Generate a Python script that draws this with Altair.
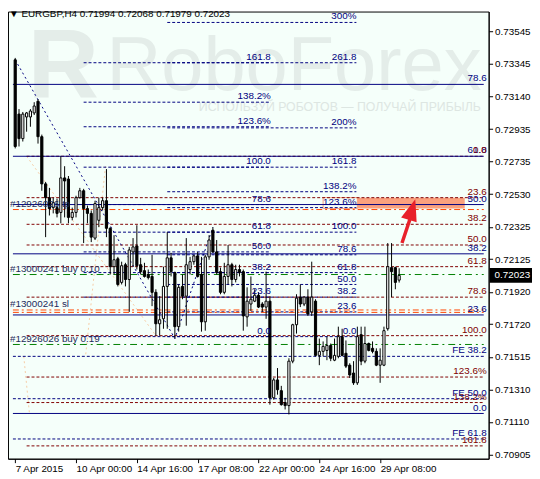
import altair as alt
import pandas as pd

W, H = 488, 454
XMIN, XMAX = -0.6, 123.25
YMIN, YMAX = 0.70881, 0.73668
FONT = "Liberation Sans"
NAVY, DRED, GREEN, ORANGE = "#000080", "#800000", "#008000", "#FF4500"
BG = "#F5FFFA"

title_text = "\u25bc EURGBP,H4  0.71994 0.72068 0.71979 0.72023"

opens = [
    0.73367, 0.73029, 0.72876, 0.73011, 0.73011, 0.73036, 0.73109, 0.72888, 0.72594, 0.72508,
    0.72446, 0.72446, 0.72416, 0.72631, 0.72624, 0.72385, 0.72416, 0.72508, 0.72551, 0.72440,
    0.72410, 0.72256, 0.72367, 0.72446, 0.72489, 0.72317, 0.72078, 0.72127, 0.71980, 0.72090,
    0.71998, 0.72170, 0.72207, 0.72090, 0.72053, 0.72029, 0.72017, 0.71918, 0.71722, 0.71753,
    0.71955, 0.72133, 0.72041, 0.71704, 0.71955, 0.71894, 0.72060, 0.72109, 0.72145, 0.72029,
    0.71734, 0.72139, 0.72305, 0.72170, 0.72047, 0.71918, 0.72017, 0.72090, 0.71998, 0.72060,
    0.72047, 0.71765, 0.71845, 0.71863, 0.71900, 0.71845, 0.71826, 0.71863, 0.71261, 0.71372,
    0.71305, 0.71231, 0.71212, 0.71489, 0.71716, 0.71888, 0.71845, 0.71888, 0.71796, 0.71863,
    0.71525, 0.71550, 0.71556, 0.71587, 0.71495, 0.71519, 0.71642, 0.71538, 0.71464, 0.71415,
    0.71354, 0.71654, 0.71489, 0.71599, 0.71569, 0.71550, 0.71464, 0.71464, 0.71691, 0.72072,
    0.72072, 0.71994]
highs = [
    0.73379, 0.73060, 0.73042, 0.73042, 0.73060, 0.73103, 0.73122, 0.72901, 0.72606, 0.72569,
    0.72508, 0.72502, 0.72766, 0.72704, 0.72643, 0.72446, 0.72520, 0.72569, 0.72563, 0.72459,
    0.72428, 0.72489, 0.72508, 0.72508, 0.72686, 0.72324, 0.72274, 0.72139, 0.72109, 0.72102,
    0.72201, 0.72256, 0.72336, 0.72133, 0.72102, 0.72060, 0.72152, 0.71937, 0.71894, 0.72078,
    0.72293, 0.72164, 0.72047, 0.71967, 0.72029, 0.72256, 0.72139, 0.72152, 0.72170, 0.72139,
    0.72152, 0.72274, 0.72324, 0.72244, 0.72072, 0.72102, 0.72213, 0.72102, 0.72090, 0.72090,
    0.72060, 0.71949, 0.72017, 0.71937, 0.71918, 0.71857, 0.72047, 0.71894, 0.71384, 0.71446,
    0.71335, 0.71261, 0.71507, 0.71722, 0.71906, 0.71967, 0.71894, 0.71937, 0.72109, 0.71875,
    0.71630, 0.71612, 0.71642, 0.71599, 0.71630, 0.71704, 0.71691, 0.71618, 0.71476, 0.71489,
    0.71704, 0.71704, 0.71704, 0.71605, 0.71612, 0.71569, 0.71569, 0.71704, 0.72225, 0.72225,
    0.72078, 0.72068]
lows = [
    0.72815, 0.72827, 0.72858, 0.72919, 0.72950, 0.73023, 0.72845, 0.72551, 0.72262, 0.72397,
    0.72410, 0.72385, 0.72348, 0.72385, 0.72348, 0.72367, 0.72385, 0.72502, 0.72225, 0.72348,
    0.72231, 0.72244, 0.72324, 0.72428, 0.72262, 0.72029, 0.72029, 0.71955, 0.71967, 0.71955,
    0.71796, 0.72078, 0.72060, 0.72029, 0.72010, 0.71998, 0.71832, 0.71648, 0.71648, 0.71691,
    0.71691, 0.72017, 0.71630, 0.71673, 0.71875, 0.71710, 0.72029, 0.72090, 0.72010, 0.71673,
    0.71679, 0.72121, 0.72164, 0.72029, 0.71906, 0.71906, 0.71967, 0.71955, 0.71980, 0.72017,
    0.71679, 0.71704, 0.71802, 0.71857, 0.71820, 0.71796, 0.71753, 0.71218, 0.71249, 0.71280,
    0.71212, 0.71188, 0.71157, 0.71476, 0.71661, 0.71826, 0.71832, 0.71771, 0.71771, 0.71519,
    0.71464, 0.71519, 0.71495, 0.71489, 0.71489, 0.71507, 0.71519, 0.71446, 0.71384, 0.71341,
    0.71341, 0.71464, 0.71476, 0.71550, 0.71538, 0.71458, 0.71354, 0.71458, 0.71679, 0.71888,
    0.71937, 0.71979]
closes = [
    0.72827, 0.72876, 0.73029, 0.73036, 0.73048, 0.73079, 0.72888, 0.72594, 0.72508, 0.72440,
    0.72477, 0.72410, 0.72631, 0.72612, 0.72385, 0.72416, 0.72508, 0.72551, 0.72440, 0.72410,
    0.72262, 0.72471, 0.72446, 0.72489, 0.72317, 0.72078, 0.72121, 0.71967, 0.72084, 0.71998,
    0.72182, 0.72201, 0.72084, 0.72047, 0.72017, 0.72010, 0.71918, 0.71722, 0.71747, 0.71955,
    0.72133, 0.72047, 0.71704, 0.71949, 0.71894, 0.72090, 0.72109, 0.72145, 0.72017, 0.71734,
    0.72139, 0.72244, 0.72170, 0.72041, 0.71918, 0.72017, 0.72090, 0.71998, 0.72060, 0.72041,
    0.71771, 0.71863, 0.71875, 0.71900, 0.71826, 0.71826, 0.71863, 0.71261, 0.71372, 0.71311,
    0.71218, 0.71212, 0.71489, 0.71716, 0.71882, 0.71845, 0.71888, 0.71783, 0.71888, 0.71525,
    0.71550, 0.71581, 0.71587, 0.71507, 0.71525, 0.71642, 0.71525, 0.71458, 0.71403, 0.71354,
    0.71642, 0.71489, 0.71599, 0.71556, 0.71550, 0.71464, 0.71495, 0.71679, 0.72078, 0.72047,
    0.71980, 0.72023]

x_tick_idx = [0, 16, 32, 48, 64, 80, 96]
x_tick_labels = ["7 Apr 2015", "10 Apr 00:00", "14 Apr 16:00", "17 Apr 08:00",
                 "22 Apr 00:00", "24 Apr 16:00", "29 Apr 08:00"]
y_ticks = [0.73545, 0.73345, 0.73140, 0.72935, 0.72735, 0.72530, 0.72325,
           0.72125, 0.71920, 0.71720, 0.71515, 0.71310, 0.71110, 0.70905]

# Fibonacci retracement (solid navy, full width)
navy_solid_labels = ["78.6", "61.8", "50.0", "38.2", "23.6", "0.0"]
navy_solid_prices = [0.73214, 0.72766, 0.72465, 0.72158, 0.71777, 0.71163]
# Fibonacci retracement (dark red dashed)
red_labels = ["0.0", "23.6", "38.2", "50.0", "61.8", "78.6", "100.0", "123.6%", "138.2%", "161.8"]
red_prices = [0.72766, 0.72508, 0.72342, 0.72213, 0.72078, 0.71888, 0.71648, 0.71390, 0.71231, 0.70961]
red_start = 3
# Fibonacci expansion (navy dashed, full width)
fe_labels = ["FE 38.2", "FE 50.0", "FE 61.8"]
fe_prices = [0.71519, 0.71255, 0.71004]
# Left middle fib set
lset_labels = ["0.0", "23.6", "38.2", "50.0", "61.8", "78.6", "100.0", "123.6%", "138.2%", "161.8"]
lset_prices = [0.71642, 0.71888, 0.72041, 0.72170, 0.72293, 0.72465, 0.72698, 0.72950, 0.73103, 0.73349]
lset_span = [18, 67.25]
# Right middle fib set
rset_labels = ["0.0", "23.6", "38.2", "50.0", "61.8", "78.6", "100.0", "123.6%", "138.2%",
               "161.8", "200%", "261.8", "300%"]
rset_prices = [0.71642, 0.71796, 0.71888, 0.71967, 0.72041, 0.72152, 0.72293, 0.72446, 0.72545,
               0.72698, 0.72943, 0.73349, 0.73600]
rset_span = [40, 89.75]
# Orders
green_labels = ["#13000241 buy 0.10", "#12926026 buy 0.19"]
green_prices = [0.72029, 0.71593]
orange_labels = ["#12926026 tp", "#13000241 sl", ""]
orange_prices = [0.72434, 0.71808, 0.71793]
# Trend points of the expansion (navy dotted)
trend_idx = [0, 42, 52]
trend_prices = [0.73367, 0.71630, 0.72324]
# Faint fib trend lines (peach dotted): segments (x1, p1) -> (x2, p2)
peach_x1 = [3, 23.75, 2.25]
peach_p1 = [0.72766, 0.72704, 0.71519]
peach_x2 = [37, 18.5, 3.75]
peach_p2 = [0.71648, 0.71519, 0.71163]
# Zone rectangle and label box
zone = {"x1": 90, "x2": 118.25, "p1": 0.72508, "p2": 0.72440}
zone_box = {"x1": 81, "x2": 90, "p1": 0.72508, "p2": 0.72440}
# Arrow
arrow_shaft = {"x1": 101.75, "p1": 0.72225, "x2": 104.0, "p2": 0.72385}
arrow_head = {"x": 104.4, "p": 0.72434}
last_price = 0.72023

# ---------------------------------------------------------------------------
xs = alt.Scale(domain=[XMIN, XMAX], nice=False, zero=False)
ys = alt.Scale(domain=[YMIN, YMAX], nice=False, zero=False)
x_expr = "".join(f"datum.value == {i} ? '{l}' : " for i, l in zip(x_tick_idx, x_tick_labels)) + "''"
xaxis = alt.Axis(values=x_tick_idx, labelExpr=x_expr, grid=False, tickSize=4, labelAlign="left",
                 labelPadding=1, labelFlush=False, labelOverlap=False, domainColor="black",
                 tickColor="black", labelColor="black", labelFont=FONT, labelFontSize=10, title=None)
yaxis = alt.Axis(orient="right", values=y_ticks, format=".5f", grid=False, tickSize=4,
                 labelPadding=2, labelOverlap=False, domainColor="black", tickColor="black",
                 labelColor="black", labelFont=FONT, labelFontSize=10, title=None)


def X(f):
    return alt.X(f, type="quantitative", scale=xs, axis=xaxis)


def Y(f):
    return alt.Y(f, type="quantitative", scale=ys, axis=yaxis)


candles = pd.DataFrame({"i": list(range(len(opens))), "open": opens, "high": highs,
                        "low": lows, "close": closes})
candles["dir"] = ["up" if c >= o else "down" for o, c in zip(opens, closes)]


def hlines(prices, labels, x1, x2):
    return pd.DataFrame({"p": prices, "label": labels, "x1": x1, "x2": x2})


def rule_layer(df, color, dash=None, width=1):
    kw = dict(color=color, strokeWidth=width)
    if dash:
        kw["strokeDash"] = dash
    return alt.Chart(df).mark_rule(**kw).encode(x=X("x1"), x2=alt.X2("x2"), y=Y("p"))


def label_layer(df, color, x=None, xfield=None, align="right", dy=-6):
    m = alt.Chart(df).mark_text(align=align, baseline="middle", dy=dy, fontSize=10,
                                font=FONT, color=color)
    if xfield:
        return m.encode(x=X(xfield), y=Y("p"), text="label:N")
    return m.encode(x=alt.value(x), y=Y("p"), text="label:N")


layers = []
# watermark
wm = "#E4EDE9"
layers.append(alt.Chart(pd.DataFrame({"t": ["R"]})).mark_text(
    align="left", baseline="middle", fontSize=100, fontWeight="bold", font=FONT,
    color=wm).encode(text="t:N", x=alt.value(20), y=alt.value(58)))
layers.append(alt.Chart(pd.DataFrame({"t": ["RoboForex"]})).mark_text(
    align="left", baseline="middle", fontSize=77, font=FONT, color=wm).encode(
    text="t:N", x=alt.value(100), y=alt.value(57)))
layers.append(alt.Chart(pd.DataFrame({"t": ["ИСПОЛЬЗУЙ РОБОТОВ — ПОЛУЧАЙ ПРИБЫЛЬ"]})).mark_text(
    align="right", baseline="middle", fontSize=12.5, font=FONT, color="#DDE6E2").encode(
    text="t:N", x=alt.value(480), y=alt.value(97)))

# zone rectangle
layers.append(alt.Chart(pd.DataFrame([zone])).mark_rect(color="#FBA17E").encode(
    x=X("x1"), x2=alt.X2("x2"), y=Y("p1"), y2=alt.Y2("p2")))
layers.append(alt.Chart(pd.DataFrame([zone_box])).mark_rect(
    fill=None, stroke="#F7A07E", strokeWidth=1).encode(
    x=X("x1"), x2=alt.X2("x2"), y=Y("p1"), y2=alt.Y2("p2")))

# faint peach dotted lines
peach = pd.DataFrame({"x1": peach_x1, "p1": peach_p1, "x2": peach_x2, "p2": peach_p2})
layers.append(alt.Chart(peach).mark_rule(color="#F6CBA4", strokeWidth=1, strokeDash=[2, 3]).encode(
    x=X("x1"), x2=alt.X2("x2"), y=Y("p1"), y2=alt.Y2("p2")))

# level lines
df_ns = hlines(navy_solid_prices, navy_solid_labels, XMIN, XMAX)
df_red = hlines(red_prices, red_labels, red_start, XMAX)
df_fe = hlines(fe_prices, fe_labels, XMIN, XMAX)
df_l = hlines(lset_prices, lset_labels, lset_span[0], lset_span[1])
df_r = hlines(rset_prices, rset_labels, rset_span[0], rset_span[1])
df_g = hlines(green_prices, green_labels, XMIN, XMAX)
df_o = hlines(orange_prices, orange_labels, XMIN, XMAX)

layers += [
    rule_layer(df_l, NAVY, [3, 2]),
    rule_layer(df_r, NAVY, [3, 2]),
    rule_layer(df_fe, NAVY, [3, 2]),
    rule_layer(df_red, DRED, [3, 2]),
    rule_layer(df_g, GREEN, [7, 4, 2, 4]),
    rule_layer(df_o, ORANGE, [6, 3, 2, 3]),
    rule_layer(df_ns, NAVY),
]

# trend (dotted)
trend = pd.DataFrame({"i": trend_idx, "p": trend_prices, "o": [0, 1, 2]})
layers.append(alt.Chart(trend).mark_line(color=NAVY, strokeWidth=1, strokeDash=[2, 3]).encode(
    x=X("i"), y=Y("p"), order="o:Q"))

# candles
layers.append(alt.Chart(candles).mark_rule(color="black", strokeWidth=1).encode(
    x=X("i"), y=Y("low"), y2=alt.Y2("high")))
layers.append(alt.Chart(candles).mark_bar(width=2.2, stroke="black", strokeWidth=1,
                                          orient="vertical").encode(
    x=X("i"), y=Y("open"), y2=alt.Y2("close"),
    fill=alt.Fill("dir:N", scale=alt.Scale(domain=["up", "down"], range=["white", "black"]),
                  legend=None)))

# labels
layers += [
    label_layer(df_l, NAVY, xfield="x2"),
    label_layer(df_r, NAVY, xfield="x2"),
    label_layer(df_ns, NAVY, x=W - 2),
    label_layer(df_red, DRED, x=W - 2),
    label_layer(df_fe, NAVY, x=W - 2),
    label_layer(df_g, "#1E2A5A", x=2, align="left"),
    label_layer(df_o, "#1E2A5A", x=2, align="left"),
]

# arrow
layers.append(alt.Chart(pd.DataFrame([arrow_shaft])).mark_rule(
    color="#E8202A", strokeWidth=3.5).encode(x=X("x1"), x2=alt.X2("x2"), y=Y("p1"), y2=alt.Y2("p2")))
layers.append(alt.Chart(pd.DataFrame([arrow_head])).mark_point(
    shape="M0,-1L0.75,1L-0.75,1Z", filled=True, size=484, angle=17, color="#E8202A",
    opacity=1).encode(x=X("x"), y=Y("p")))

# title
layers.append(alt.Chart(pd.DataFrame({"t": [title_text]})).mark_text(
    align="left", baseline="middle", fontSize=10, font=FONT, color="black").encode(
    text="t:N", x=alt.value(1), y=alt.value(3)))

# last price box
lp = pd.DataFrame({"p": [last_price], "label": [f"{last_price:.5f}"]})
layers.append(alt.Chart(lp).mark_rule(color="black", strokeWidth=15).encode(
    x=alt.value(W + 1), x2=alt.value(W + 44), y=Y("p")))
layers.append(alt.Chart(lp).mark_text(align="left", baseline="middle", fontSize=10, font=FONT,
                                      color="white").encode(
    x=alt.value(W + 6), y=Y("p"), text="label:N"))

chart = alt.layer(*layers).properties(
    width=W, height=H,
    padding={"left": 0, "top": 0, "right": 44, "bottom": 17},
    autosize=alt.AutoSizeParams(type="none"),
    background="white",
).configure_view(stroke="black", strokeWidth=1, fill=BG)

chart.save("out.html", embed_options={"renderer": "svg", "actions": False})
